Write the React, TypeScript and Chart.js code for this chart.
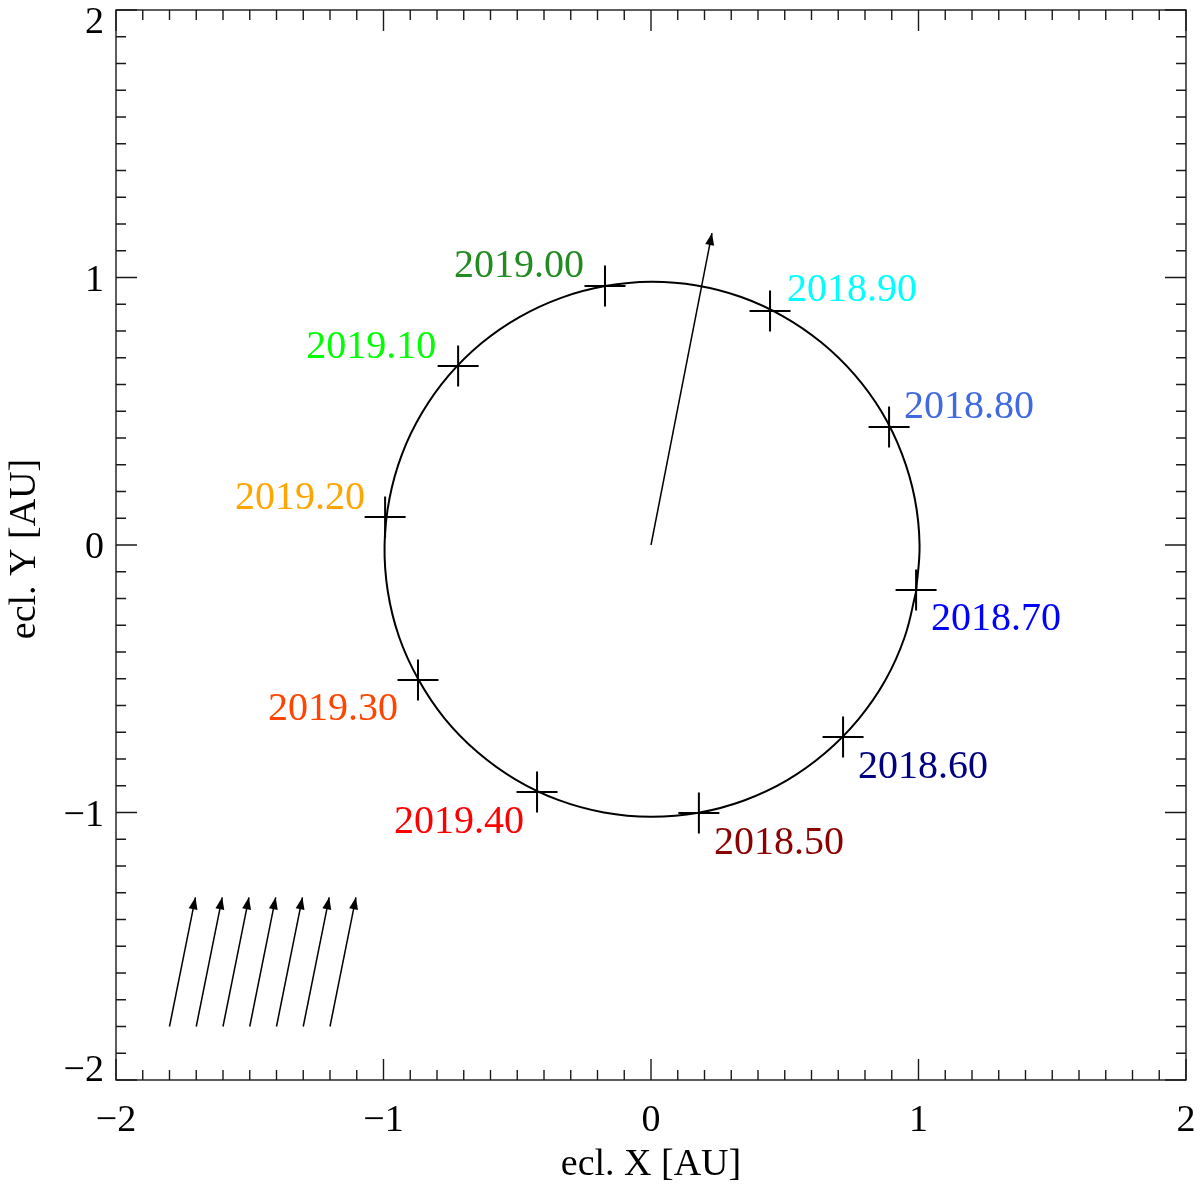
import React, { useEffect, useRef } from 'react';
import { Chart, registerables } from 'chart.js';

Chart.register(...registerables);

// ---- Data ----
// Earth orbit, ecliptic coordinates [AU]
const orbitX = [0.991, 1.004, 0.986, 0.938, 0.862, 0.760, 0.636, 0.494, 0.337, 0.171, 0.0, -0.171, -0.336, -0.492, -0.633, -0.756, -0.856, -0.931, -0.978, -0.996, -0.984, -0.942, -0.870, -0.772, -0.649, -0.506, -0.347, -0.176, 0.0, 0.177, 0.348, 0.508, 0.652, 0.776, 0.876, 0.948, 0.991];
const orbitY = [-0.175, 0.0, 0.174, 0.341, 0.498, 0.638, 0.758, 0.855, 0.927, 0.970, 0.984, 0.968, 0.924, 0.852, 0.755, 0.634, 0.494, 0.339, 0.172, 0.0, -0.173, -0.343, -0.502, -0.648, -0.774, -0.877, -0.953, -1.0, -1.016, -1.001, -0.955, -0.880, -0.777, -0.651, -0.506, -0.345, -0.175];

// Epoch markers on the orbit
const epochLabels = ['2018.50', '2018.60', '2018.70', '2018.80', '2018.90', '2019.00', '2019.10', '2019.20', '2019.30', '2019.40'];
const markerX = [0.179, 0.718, 0.991, 0.890, 0.445, -0.172, -0.721, -0.994, -0.871, -0.426];
const markerY = [-1.002, -0.718, -0.168, 0.441, 0.875, 0.968, 0.669, 0.105, -0.505, -0.923];

// Direction arrow from the Sun
const sunArrowX = [0.0, 0.228];
const sunArrowY = [0.0, 1.166];

// Row of small arrows, lower left
const fieldArrowStartX = [-1.8, -1.7, -1.6, -1.5, -1.4, -1.3, -1.2];
const fieldArrowStartY = [-1.8, -1.8, -1.8, -1.8, -1.8, -1.8, -1.8];
const fieldArrowEndX = [-1.703, -1.603, -1.503, -1.403, -1.303, -1.203, -1.103];
const fieldArrowEndY = [-1.317, -1.317, -1.317, -1.317, -1.317, -1.317, -1.317];

// Axes
const xTickValues = [-2, -1, 0, 1, 2];
const yTickValues = [-2, -1, 0, 1, 2];
const xTitle = 'ecl. X [AU]';
const yTitle = 'ecl. Y [AU]';

// ---- Styles ----
const epochColors = ['#8B0000', '#000080', '#0000FF', '#4169E1', '#00FFFF', '#228B22', '#00FF00', '#FFA500', '#FF4500', '#FF0000'];
// pixel offsets of each label from its marker, and alignment
const labelDX = [15, 15, 15, 15, 17, -21, -22, -20, -20, -13];
const labelDY = [41, 41, 40, -9, -10, -9, -8, -8, 40, 41];
const labelAlign: CanvasTextAlign[] = ['left', 'left', 'left', 'left', 'left', 'right', 'right', 'right', 'right', 'right'];

const FONT = "'Liberation Serif', 'Times New Roman', Times, serif";

function fmt(v: number): string {
  return v < 0 ? '\u2212' + String(Math.abs(v)) : String(v);
}

const idlPlugin = {
  id: 'idlFrame',
  afterDatasetsDraw(chart: any) {
    const ctx: CanvasRenderingContext2D = chart.ctx;
    const xs = chart.scales.x;
    const ys = chart.scales.y;
    // arrowheads
    ctx.save();
    ctx.fillStyle = '#000';
    chart.data.datasets.forEach((ds: any, i: number) => {
      if (!ds.isArrow) return;
      const meta = chart.getDatasetMeta(i);
      const p0 = meta.data[0];
      const p1 = meta.data[1];
      const dx = p1.x - p0.x;
      const dy = p1.y - p0.y;
      const len = Math.hypot(dx, dy);
      const ux = dx / len;
      const uy = dy / len;
      const hl = 12;
      const hw = 4.5;
      const bx = p1.x - ux * hl;
      const by = p1.y - uy * hl;
      ctx.beginPath();
      ctx.moveTo(p1.x, p1.y);
      ctx.lineTo(bx - uy * hw, by + ux * hw);
      ctx.lineTo(bx + uy * hw, by - ux * hw);
      ctx.closePath();
      ctx.fill();
    });
    ctx.restore();

    // epoch labels
    ctx.save();
    ctx.font = `40px ${FONT}`;
    ctx.textBaseline = 'alphabetic';
    epochLabels.forEach((lab, i) => {
      const px = xs.getPixelForValue(markerX[i]);
      const py = ys.getPixelForValue(markerY[i]);
      ctx.fillStyle = epochColors[i];
      ctx.textAlign = labelAlign[i];
      ctx.fillText(lab, px + labelDX[i], py + labelDY[i]);
    });
    ctx.restore();
  },
  afterDraw(chart: any) {
    const ctx: CanvasRenderingContext2D = chart.ctx;
    const xs = chart.scales.x;
    const ys = chart.scales.y;
    const { left, right, top, bottom } = chart.chartArea;
    ctx.save();
    ctx.strokeStyle = '#1a1a1a';
    ctx.lineWidth = 1.4;
    ctx.strokeRect(left, top, right - left, bottom - top);
    ctx.beginPath();
    for (let i = -20; i <= 20; i++) {
      const v = i / 10;
      const major = i % 10 === 0;
      const len = major ? 21 : 10;
      const px = xs.getPixelForValue(v);
      const py = ys.getPixelForValue(v);
      ctx.moveTo(px, bottom);
      ctx.lineTo(px, bottom - len);
      ctx.moveTo(px, top);
      ctx.lineTo(px, top + len);
      ctx.moveTo(left, py);
      ctx.lineTo(left + len, py);
      ctx.moveTo(right, py);
      ctx.lineTo(right - len, py);
    }
    ctx.stroke();

    ctx.fillStyle = '#000';
    ctx.font = `38px ${FONT}`;
    ctx.textBaseline = 'alphabetic';
    ctx.textAlign = 'center';
    xTickValues.forEach((v) => {
      ctx.fillText(fmt(v), xs.getPixelForValue(v), bottom + 51);
    });
    ctx.textAlign = 'right';
    yTickValues.forEach((v) => {
      const py = ys.getPixelForValue(v);
      const base = Math.min(Math.max(py + 13, top + 23), bottom + 1);
      ctx.fillText(fmt(v), left - 12, base);
    });
    ctx.textAlign = 'center';
    ctx.fillText(xTitle, (left + right) / 2, bottom + 95);
    ctx.translate(35, (top + bottom) / 2 + 4);
    ctx.rotate(-Math.PI / 2);
    ctx.fillText(yTitle, 0, 0);
    ctx.restore();
  },
};

export default function App() {
  const ref = useRef<HTMLCanvasElement | null>(null);
  useEffect(() => {
    if (!ref.current) return;
    const orbit = orbitX.map((x, i) => ({ x, y: orbitY[i] }));
    const markers = markerX.map((x, i) => ({ x, y: markerY[i] }));
    const arrowSets: any[] = fieldArrowStartX.map((sx, i) => ({
      data: [
        { x: sx, y: fieldArrowStartY[i] },
        { x: fieldArrowEndX[i], y: fieldArrowEndY[i] },
      ],
      isArrow: true,
      showLine: true,
      borderColor: '#000',
      borderWidth: 1.5,
      pointRadius: 0,
    }));
    const chart = new Chart(ref.current, {
      type: 'scatter',
      data: {
        datasets: [
          {
            data: orbit,
            showLine: true,
            borderColor: '#000',
            borderWidth: 2,
            pointRadius: 0,
            tension: 0.4,
          },
          {
            data: markers,
            showLine: false,
            pointStyle: 'cross',
            pointRadius: 20.5,
            borderColor: '#000',
            borderWidth: 2,
          },
          {
            data: sunArrowX.map((x, i) => ({ x, y: sunArrowY[i] })),
            isArrow: true,
            showLine: true,
            borderColor: '#000',
            borderWidth: 1.5,
            pointRadius: 0,
          } as any,
          ...arrowSets,
        ],
      },
      options: {
        responsive: false,
        animation: false,
        events: [],
        layout: { autoPadding: false, padding: { left: 116, top: 10, right: 14, bottom: 105 } },
        plugins: { legend: { display: false }, tooltip: { enabled: false } },
        scales: {
          x: { type: 'linear', min: -2, max: 2, display: false },
          y: { type: 'linear', min: -2, max: 2, display: false },
        },
      },
      plugins: [idlPlugin],
    });
    return () => chart.destroy();
  }, []);
  return (
    <div style={{ position: 'absolute', left: 0, top: 0, width: 1200, height: 1185, background: '#fff' }}>
      <canvas ref={ref} width={1200} height={1185} style={{ display: 'block' }} />
    </div>
  );
}
